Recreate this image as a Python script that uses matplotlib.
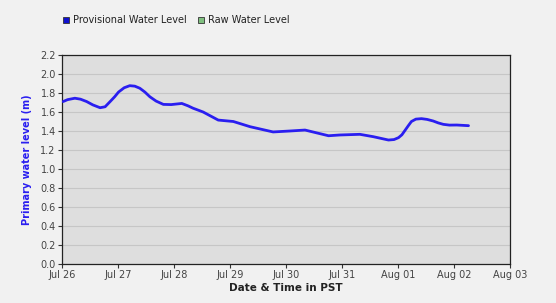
import matplotlib
matplotlib.use("Agg")
import matplotlib.pyplot as plt
import matplotlib.dates as mdates
from matplotlib.patches import Rectangle
import pandas as pd

# water level readings (days after Jul 26 00:00, metres)
day_offsets = [0.02, 0.10, 0.23, 0.33, 0.44, 0.55, 0.68, 0.77, 0.86, 0.94,
               1.01, 1.11, 1.21, 1.30, 1.39, 1.48, 1.57, 1.68, 1.81, 1.95,
               2.14, 2.25, 2.34, 2.52, 2.79, 3.06, 3.36, 3.77, 4.07, 4.34,
               4.55, 4.76, 4.96, 5.32, 5.56, 5.83, 5.93, 6.01, 6.07, 6.13,
               6.19, 6.24, 6.32, 6.42, 6.52, 6.63, 6.72, 6.81, 6.92, 7.05,
               7.26]
levels = [1.71, 1.73, 1.745, 1.735, 1.71, 1.675, 1.645, 1.655, 1.71, 1.76,
          1.81, 1.855, 1.877, 1.872, 1.85, 1.81, 1.76, 1.715, 1.68, 1.678,
          1.69, 1.665, 1.64, 1.60, 1.515, 1.50, 1.445, 1.39, 1.40, 1.41,
          1.38, 1.35, 1.358, 1.365, 1.34, 1.305, 1.31, 1.33, 1.36, 1.41,
          1.46, 1.50, 1.525, 1.53, 1.522, 1.505, 1.485, 1.47, 1.462, 1.463,
          1.456]
start = pd.Timestamp("2012-07-26")
tick_days = pd.date_range("2012-07-26", "2012-08-03", freq="D")
y_ticks = [0.0, 0.2, 0.4, 0.6, 0.8, 1.0, 1.2, 1.4, 1.6, 1.8, 2.0, 2.2]
legend_labels = ["Provisional Water Level", "Raw Water Level"]
legend_colors = ["#1010d0", "#80c080"]

times = [start + pd.Timedelta(days=d) for d in day_offsets]

plt.rcParams["font.family"] = ["DejaVu Sans"]
fig = plt.figure(figsize=(5.56, 3.03), dpi=100, facecolor="#f1f1f1")
ax = fig.add_axes([0.1115, 0.1287, 0.8057, 0.6898])
ax.set_facecolor("#dedede")

ax.plot(times, levels, color="#2a1ef0", lw=2.0, zorder=3,
        solid_joinstyle="round", solid_capstyle="round")

ax.set_ylim(0, 2.2)
ax.set_yticks(y_ticks)
ax.set_yticklabels([f"{v:.1f}" for v in y_ticks])
ax.set_xlim(tick_days[0], tick_days[-1])
ax.set_xticks(tick_days)
ax.xaxis.set_major_formatter(mdates.DateFormatter("%b %d"))
ax.grid(axis="y", color="#c6c6c6", lw=0.8)
ax.set_axisbelow(True)
ax.tick_params(labelsize=7, length=3, width=0.8, color="#333333",
               labelcolor="#444444", pad=1.5)
for s in ax.spines.values():
    s.set_color("#222222")
    s.set_linewidth(0.9)

ax.set_ylabel("Primary water level (m)", color="#2a1ef0", fontsize=7,
              fontweight="bold", labelpad=6)
ax.set_xlabel("Date & Time in PST", fontsize=7.5, fontweight="bold",
              color="#222222", labelpad=2)

# legend along the top
lx = [63 / 556, 198 / 556]
for x, lab, col in zip(lx, legend_labels, legend_colors):
    fig.patches.append(Rectangle((x, 1 - 23 / 303), 6 / 556, 6 / 303,
                                 transform=fig.transFigure, facecolor=col,
                                 edgecolor="#333333", lw=0.6))
    fig.text(x + 10 / 556, 1 - 20 / 303, lab, fontsize=7, va="center",
             color="#222222")

fig.savefig("out.png", dpi=100, facecolor=fig.get_facecolor())
